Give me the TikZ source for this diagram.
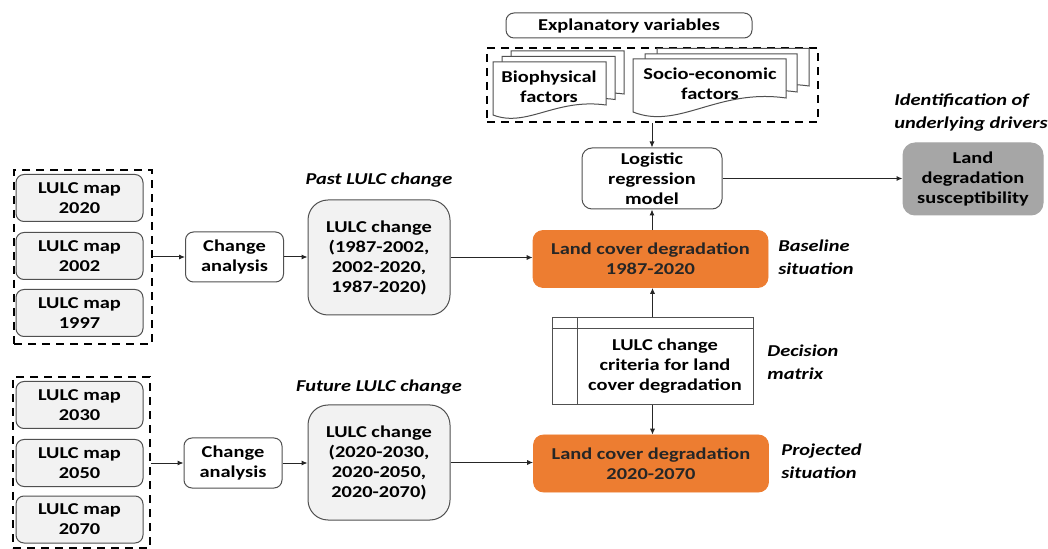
\documentclass[tikz,border=0pt]{standalone}
\usepackage{fontspec}
\setmainfont{Carlito}[FakeStretch=1.23]
\usetikzlibrary{arrows.meta}

\definecolor{lcdorange}{RGB}{237,125,49}
\definecolor{mapgrey}{RGB}{242,242,242}
\definecolor{suscgrey}{RGB}{166,166,166}
\definecolor{edgegrey}{RGB}{80,80,80}

\tikzset{
  lbl/.style={font=\fontsize{8.3}{10}\selectfont\bfseries},
  ilbl/.style={font=\fontsize{8.3}{11.5}\selectfont\bfseries\itshape, inner sep=0pt},
  base/.style={lbl, draw=edgegrey, line width=0.5pt, align=center, inner sep=0pt},
  mapbox/.style={base, fill=mapgrey, rounded corners=4pt, minimum width=63.5pt, minimum height=23.5pt},
  dashbox/.style={draw=black, line width=1.2pt, dash pattern=on 4pt off 3pt, inner sep=0pt},
  changebox/.style={base, fill=white, rounded corners=4pt, minimum width=49pt, minimum height=25pt},
  lulcbox/.style={base, fill=mapgrey, rounded corners=10pt, minimum width=71pt, minimum height=57.5pt},
  lcdbox/.style={lbl, fill=lcdorange, draw=lcdorange, rounded corners=5pt, align=center,
    inner sep=0pt, minimum width=117.5pt, minimum height=28.5pt, text=black!85},
  docline/.style={draw=edgegrey, line width=0.5pt, fill=white},
  arr/.style={draw=black!85, line width=0.5pt, -{Latex[length=3pt,width=2.6pt]}},
}

% one page of a stacked document: left x, top y, right x, bottom-left y, wave height
\newcommand\docpage[5]{%
  \draw[docline] (#1,#2) -- (#3,#2) -- (#3,#4-#5)
    .. controls ({#1+0.55*(#3-#1)},{#4-1.7*#5}) and ({#1+0.3*(#3-#1)},{#4+1.3*#5}) .. (#1,#4)
    -- cycle;}

\begin{document}
\begin{tikzpicture}[x=0.5pt,y=-0.5pt]
\useasboundingbox (0,0) rectangle (1048,549);

% explanatory variables
\node[base, fill=white, rounded corners=4pt, minimum width=123pt, minimum height=12.5pt]
  (expl) at (629,25.5) {Explanatory variables};
\node[dashbox, minimum width=165.5pt, minimum height=37pt] (vars) at (652.5,85) {};
\docpage{511}{51}{624}{104}{10}
\docpage{502}{56.5}{615}{109.5}{10}
\docpage{493}{62}{606}{115}{10}
\docpage{657}{48.5}{809}{100}{14}
\docpage{645}{54}{797}{106}{14}
\docpage{633}{59}{786}{112}{14}
\node[lbl, align=center] (bio) at (549,87) {Biophysical\\factors};
\node[lbl, align=center] (soc) at (710,84) {Socio-economic\\factors};

% model and result
\node[base, fill=white, rounded corners=5pt, minimum width=70pt, minimum height=30.5pt]
  (logit) at (652,178.5) {Logistic\\regression\\model};
\node[base, fill=suscgrey, draw=suscgrey, rounded corners=6pt, minimum width=70pt, minimum height=36pt]
  (susc) at (973,179) {Land\\degradation\\susceptibility};
\node[ilbl, align=left, anchor=west] (ident) at (894,113) {Identification of\\underlying drivers};

% land cover degradation
\node[lcdbox] (lcd1) at (650.5,259) {Land cover degradation\\1987-2020};
\node[lcdbox] (lcd2) at (651,463.5) {Land cover degradation\\2020-2070};
\node[ilbl, align=left, anchor=west] (base) at (778,257) {Baseline\\situation};
\node[ilbl, align=left, anchor=west] (proj) at (781,461) {Projected\\situation};

% decision matrix
\node[base, fill=white, rounded corners=0pt, minimum width=100.5pt, minimum height=43.5pt]
  (dm) at (652.5,361.5) {};
\draw[edgegrey, line width=0.5pt] (dm.north west) ++(0,11) coordinate (dmh) -- (dmh -| dm.east);
\draw[edgegrey, line width=0.5pt] (577.5,0 |- dm.north) coordinate (dmv) -- (dmv |- dm.south);
\node[lbl, align=center] (dmtext) at (665,366) {LULC change\\criteria for land\\cover degradation};
\node[ilbl, align=left, anchor=west] (dmlab) at (767,362) {Decision\\matrix};

% past maps
\node[dashbox, minimum width=69pt, minimum height=87pt] (past) at (83,257) {};
\node[mapbox] (m2020) at (79.5,198) {LULC map\\2020};
\node[mapbox] (m2002) at (79.5,256) {LULC map\\2002};
\node[mapbox] (m1997) at (79.5,313) {LULC map\\1997};
\node[changebox] (ch1) at (234.5,257) {Change\\analysis};
\node[lulcbox] (lulc1) at (379,257.5) {LULC change\\(1987-2002,\\2002-2020,\\1987-2020)};
\node[ilbl] (pastlab) at (379,180) {Past LULC change};

% future maps
\node[dashbox, minimum width=68.5pt, minimum height=85.5pt] (fut) at (81.5,462.5) {};
\node[mapbox] (m2030) at (79.5,405) {LULC map\\2030};
\node[mapbox] (m2050) at (79.5,463) {LULC map\\2050};
\node[mapbox] (m2070) at (79.5,519.5) {LULC map\\2070};
\node[changebox] (ch2) at (233,463) {Change\\analysis};
\node[lulcbox] (lulc2) at (379,462.5) {LULC change\\(2020-2030,\\2020-2050,\\2020-2070)};
\node[ilbl] (futlab) at (379,387) {Future LULC change};

% connectors
\draw[arr] (vars.south -| logit.north) -- (logit.north);
\draw[arr] (logit.east) -- (susc.west |- logit.east);
\draw[arr] (lcd1.north -| logit.south) -- (logit.south);
\draw[arr] (dm.north) -- (dm.north |- lcd1.south);
\draw[arr] (dm.south) -- (dm.south |- lcd2.north);
\draw[arr] (past.east |- ch1.west) -- (ch1.west);
\draw[arr] (ch1.east) -- (lulc1.west |- ch1.east);
\draw[arr] (lulc1.east) -- (lcd1.west |- lulc1.east);
\draw[arr] (fut.east |- ch2.west) -- (ch2.west);
\draw[arr] (ch2.east) -- (lulc2.west |- ch2.east);
\draw[arr] (lulc2.east) -- (lcd2.west |- lulc2.east);
\end{tikzpicture}
\end{document}
